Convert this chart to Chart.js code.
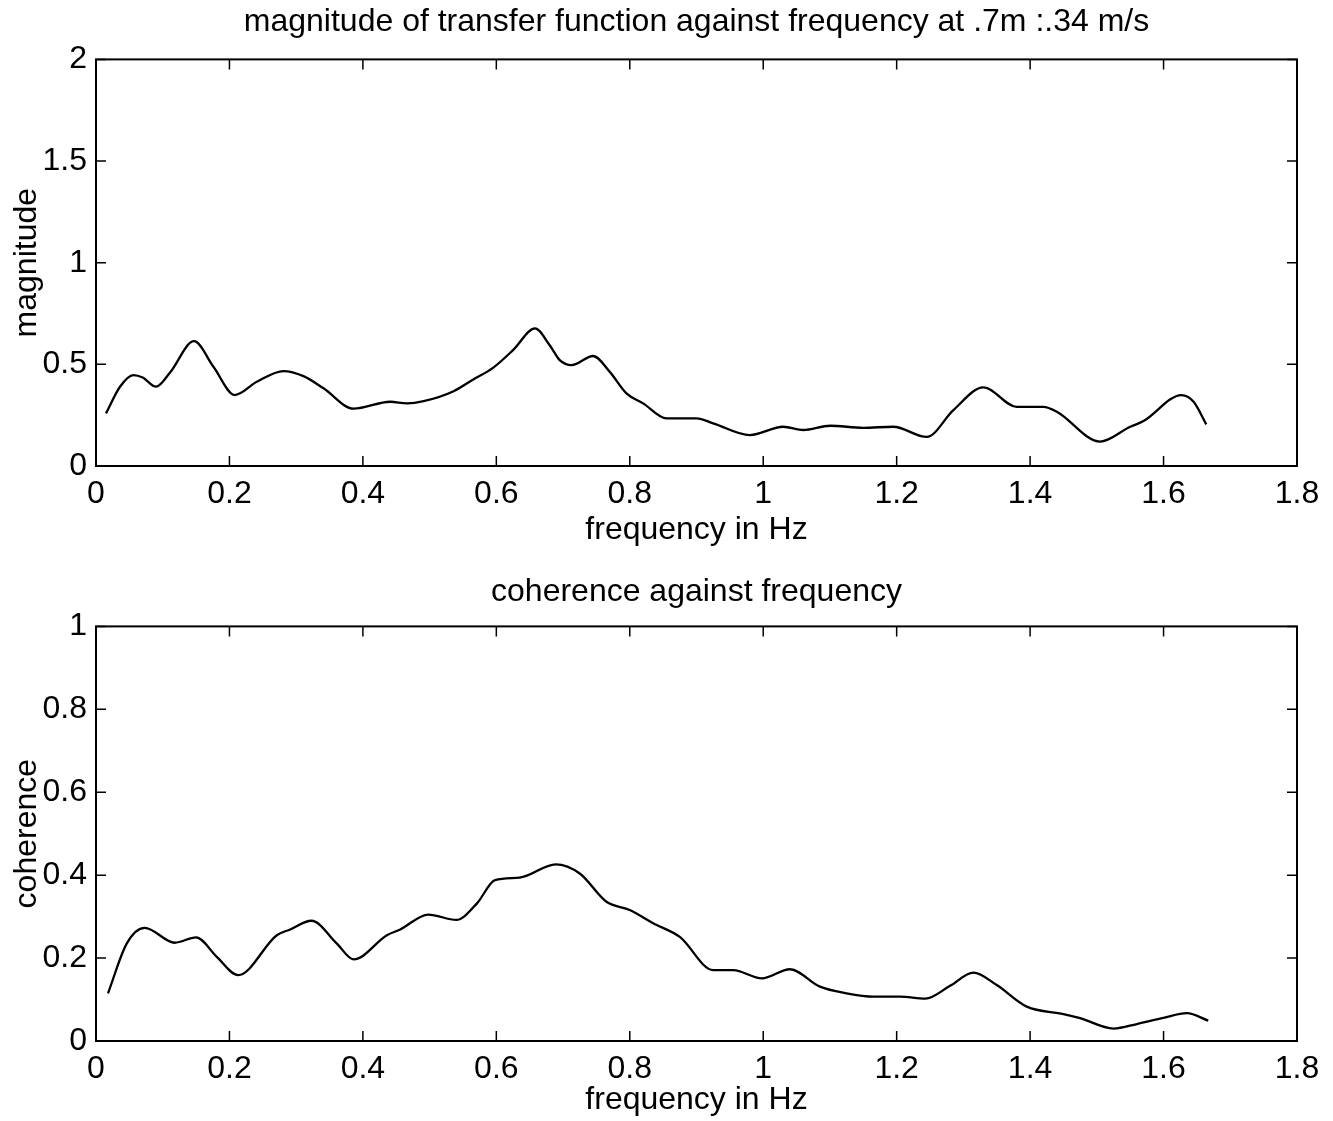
<!DOCTYPE html>
<html>
<head>
<meta charset="utf-8">
<script src="https://cdn.jsdelivr.net/npm/chart.js@4.4.1/dist/chart.umd.min.js"></script>
<style>
    html, body { margin: 0; padding: 0; background: #fff; }
    #wrap { position: relative; width: 1333px; height: 1121px; }
    .box { position: absolute; left: 0; width: 1333px; }
</style>
</head>
<body>
<div id="wrap">
    <div class="box" style="top:0;height:560px"><canvas id="magChart"></canvas></div>
    <div class="box" style="top:560px;height:561px"><canvas id="cohChart"></canvas></div>
</div>
<script>
// magnitude of transfer function
const magFreq = [0.015, 0.036, 0.056, 0.070, 0.090, 0.111, 0.147, 0.176, 0.208, 0.241,
    0.281, 0.311, 0.341, 0.386, 0.441, 0.466, 0.491, 0.536, 0.566, 0.595,
    0.625, 0.658, 0.680, 0.695, 0.713, 0.745, 0.770, 0.795, 0.820, 0.855,
    0.900, 0.925, 0.980, 1.030, 1.060, 1.100, 1.150, 1.195, 1.245, 1.285,
    1.330, 1.380, 1.420, 1.440, 1.505, 1.550, 1.570, 1.627, 1.645, 1.664];
const magValues = [0.259, 0.390, 0.447, 0.435, 0.390, 0.460, 0.614, 0.488, 0.349, 0.414,
    0.467, 0.442, 0.382, 0.282, 0.316, 0.308, 0.319, 0.368, 0.427, 0.483,
    0.570, 0.677, 0.594, 0.521, 0.496, 0.541, 0.463, 0.357, 0.308, 0.234,
    0.234, 0.210, 0.152, 0.193, 0.177, 0.198, 0.188, 0.193, 0.143, 0.275,
    0.387, 0.291, 0.291, 0.267, 0.120, 0.193, 0.221, 0.349, 0.316, 0.205];

// coherence
const cohFreq = [0.018, 0.046, 0.073, 0.118, 0.150, 0.181, 0.213, 0.271, 0.291, 0.323,
    0.361, 0.386, 0.436, 0.456, 0.498, 0.540, 0.571, 0.598, 0.635, 0.689,
    0.725, 0.765, 0.800, 0.835, 0.875, 0.925, 0.955, 0.998, 1.040, 1.085,
    1.125, 1.165, 1.205, 1.243, 1.280, 1.315, 1.350, 1.395, 1.450, 1.475,
    1.525, 1.560, 1.600, 1.635, 1.667];
const cohValues = [0.115, 0.235, 0.273, 0.237, 0.250, 0.203, 0.159, 0.255, 0.269, 0.290,
    0.235, 0.197, 0.255, 0.269, 0.305, 0.292, 0.332, 0.388, 0.394, 0.426,
    0.404, 0.336, 0.316, 0.284, 0.251, 0.171, 0.171, 0.151, 0.173, 0.131,
    0.115, 0.107, 0.107, 0.102, 0.133, 0.165, 0.135, 0.083, 0.065, 0.055,
    0.030, 0.041, 0.056, 0.067, 0.049];

const FONT = 'Liberation Sans, Arial, Helvetica, sans-serif';
const TICK_LEN = 10;

// MATLAB style box with inward ticks on all four sides
const boxTicks = {
    id: 'boxTicks',
    afterDraw(chart) {
        const ctx = chart.ctx;
        const a = chart.chartArea;
        const xs = chart.scales.x, ys = chart.scales.y;
        ctx.save();
        ctx.strokeStyle = '#000';
        ctx.lineWidth = 2;
        ctx.strokeRect(a.left, a.top, a.right - a.left, a.bottom - a.top);
        ctx.lineWidth = 1.5;
        ctx.beginPath();
        xs.ticks.forEach(function(t) {
            var px = xs.getPixelForValue(t.value);
            ctx.moveTo(px, a.bottom); ctx.lineTo(px, a.bottom - TICK_LEN);
            ctx.moveTo(px, a.top); ctx.lineTo(px, a.top + TICK_LEN);
        });
        ys.ticks.forEach(function(t) {
            var py = ys.getPixelForValue(t.value);
            ctx.moveTo(a.left, py); ctx.lineTo(a.left + TICK_LEN, py);
            ctx.moveTo(a.right, py); ctx.lineTo(a.right - TICK_LEN, py);
        });
        ctx.stroke();
        ctx.restore();
    }
};

function fmt(v) { return String(parseFloat(Number(v).toFixed(2))); }

function makeChart(id, xsArr, ysArr, opts) {
    const points = xsArr.map(function(f, i) { return { x: f, y: ysArr[i] }; });
    return new Chart(document.getElementById(id), {
        type: 'line',
        data: {
            datasets: [{
                data: points,
                borderColor: '#000',
                borderWidth: 2.3,
                pointRadius: 0,
                tension: 0.4,
                cubicInterpolationMode: 'monotone',
                fill: false,
            }],
        },
        options: {
            responsive: true,
            maintainAspectRatio: false,
            animation: false,
            layout: { padding: { left: 0, right: 36, top: 0, bottom: 0 } },
            plugins: {
                legend: { display: false },
                tooltip: { enabled: false },
                title: {
                    display: true,
                    fullSize: false,
                    text: opts.title,
                    color: '#000',
                    font: { family: FONT, size: 32, weight: 'normal' },
                    padding: opts.titlePad,
                },
            },
            scales: {
                x: {
                    type: 'linear',
                    min: 0, max: 1.8,
                    grid: { display: false, drawTicks: false },
                    border: { display: false },
                    ticks: {
                        stepSize: 0.2,
                        color: '#000',
                        padding: 9,
                        maxRotation: 0,
                        font: { family: FONT, size: 32 },
                        callback: fmt,
                    },
                    title: {
                        display: true,
                        text: 'frequency in Hz',
                        color: '#000',
                        font: { family: FONT, size: 32 },
                        padding: { top: 0, bottom: opts.xTitleBottom },
                    },
                    afterFit: function(s) { s.height = opts.xHeight; },
                },
                y: {
                    min: 0, max: opts.yMax,
                    grid: { display: false, drawTicks: false },
                    border: { display: false },
                    ticks: {
                        stepSize: opts.yStep,
                        color: '#000',
                        padding: 9,
                        font: { family: FONT, size: 32 },
                        callback: fmt,
                    },
                    title: {
                        display: true,
                        text: opts.yTitle,
                        color: '#000',
                        font: { family: FONT, size: 32 },
                        padding: { top: 8, bottom: 0 },
                    },
                    afterFit: function(s) { s.width = 96; },
                },
            },
        },
        plugins: [boxTicks],
    });
}

makeChart('magChart', magFreq, magValues, {
    title: 'magnitude of transfer function against frequency at .7m :.34 m/s',
    titlePad: { top: 3, bottom: 18 },
    yTitle: 'magnitude',
    yMax: 2, yStep: 0.5,
    xHeight: 94, xTitleBottom: 11,
});

makeChart('cohChart', cohFreq, cohValues, {
    title: 'coherence against frequency',
    titlePad: { top: 13, bottom: 15 },
    yTitle: 'coherence',
    yMax: 1, yStep: 0.2,
    xHeight: 80, xTitleBottom: 2,
});
</script>
</body>
</html>
